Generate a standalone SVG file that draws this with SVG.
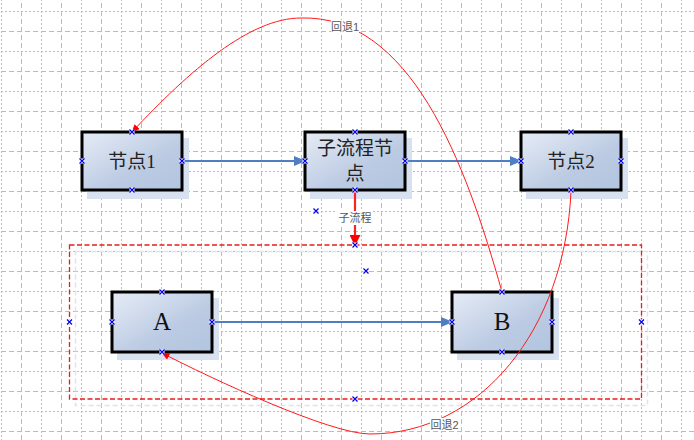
<svg xmlns="http://www.w3.org/2000/svg" width="694" height="440" viewBox="0 0 694 440">
<defs>
<style>
.grid-dot{stroke:#bcbcbc;stroke-width:1;stroke-dasharray:2,2;fill:none}
.grid-dash{stroke:#bcbcbc;stroke-width:1;stroke-dasharray:5,3;fill:none}
.box{fill:url(#nodeGrad);stroke:#000;stroke-width:3}
.shadow{fill:#d8e1f0}
.ntext{font-family:"Liberation Serif","Noto Sans CJK SC",serif;font-size:19px;fill:#222;text-anchor:middle}
.ltext{font-family:"Liberation Serif",serif;font-size:25px;fill:#111;text-anchor:middle}
.lbl{font-family:"Liberation Sans","Noto Sans CJK SC",sans-serif;font-size:11px;fill:#555;text-anchor:middle}
.blue{stroke:#4f7fc0;stroke-width:2;fill:none}
.red{stroke:#ff1a1a;stroke-width:1;fill:none}
</style>
<linearGradient id="nodeGrad" x1="0" y1="0" x2="1" y2="1">
<stop offset="0" stop-color="#e6ecf6"/>
<stop offset="0.6" stop-color="#bccbe3"/>
<stop offset="1" stop-color="#b2c4df"/>
</linearGradient>
<pattern id="grid" patternUnits="userSpaceOnUse" x="1" y="11" width="40" height="40">
<path class="grid-dot" d="M0.5 0V40M0 0.5H40"/>
<path class="grid-dash" d="M20.5 0V40M0 20.5H40"/>
</pattern>
<marker id="arrBlue" markerWidth="12" markerHeight="10" refX="11" refY="5" orient="auto" markerUnits="userSpaceOnUse">
<path d="M0,0 L12,5 L0,10 Z" fill="#4f7fc0"/>
</marker>
<marker id="arrRedBig" markerWidth="11" markerHeight="11" refX="10" refY="5.5" orient="auto" markerUnits="userSpaceOnUse">
<path d="M0,0 L11,5.5 L0,11 Z" fill="#ff0000"/>
</marker>
<marker id="arrRed" markerWidth="8" markerHeight="7" refX="7.5" refY="3.5" orient="auto" markerUnits="userSpaceOnUse">
<path d="M0,0 L8,3.5 L0,7 Z" fill="#ff0000"/>
</marker>
<g id="pt">
<rect x="-2.5" y="-2.5" width="5" height="5" fill="#fff"/>
<path d="M-2.5,-2.5 L2.5,2.5 M2.5,-2.5 L-2.5,2.5" stroke="#0000ee" stroke-width="1.2"/>
</g>
</defs>

<rect width="694" height="440" fill="#fff"/>
<rect width="694" height="440" fill="url(#grid)"/>

<g id="container">
<rect x="75.5" y="251.5" width="572" height="154" fill="none" stroke="#dde4ef" stroke-width="1.5" stroke-dasharray="5,3"/>
<rect x="69.5" y="245" width="572" height="154" fill="none" stroke="#e81c1c" stroke-width="1.3" stroke-dasharray="5,2.5"/>
</g>

<g id="node1">
<rect class="shadow" x="87" y="138" width="102" height="61"/>
<rect class="box" x="82" y="132" width="100" height="58"/>
<text class="ntext" x="132" y="168">节点1</text>
</g>
<g id="subflow">
<rect class="shadow" x="310" y="138" width="102" height="61"/>
<rect class="box" x="305" y="132" width="100" height="58"/>
<text class="ntext" x="355" y="155">子流程节</text>
<text class="ntext" x="355" y="180">点</text>
</g>
<g id="node2">
<rect class="shadow" x="526" y="138" width="102" height="61"/>
<rect class="box" x="521" y="132" width="100" height="58"/>
<text class="ntext" x="571" y="168">节点2</text>
</g>
<g id="nodeA">
<rect class="shadow" x="117" y="298" width="102" height="62"/>
<rect class="box" x="112" y="292" width="100" height="60"/>
<text class="ltext" x="162" y="330">A</text>
</g>
<g id="nodeB">
<rect class="shadow" x="457" y="298" width="102" height="62"/>
<rect class="box" x="452" y="292" width="100" height="60"/>
<text class="ltext" x="502" y="330">B</text>
</g>

<g id="connectors">
<path class="blue" d="M182,161 H305" marker-end="url(#arrBlue)"/>
<path class="blue" d="M405,161 H521" marker-end="url(#arrBlue)"/>
<path class="blue" d="M212,322 H452" marker-end="url(#arrBlue)"/>
<path d="M355,191 V245" stroke="#ff2020" stroke-width="2.2" fill="none" marker-end="url(#arrRedBig)"/>
<rect x="337" y="211" width="36" height="14" fill="#fff"/>
<text class="lbl" x="355" y="222">子流程</text>
<path class="red" d="M502,292 C465,160 410,15 301,18 C250,18 190,70 132,132" marker-end="url(#arrRed)"/>
<rect x="331" y="20" width="28" height="13" fill="#fff"/>
<text class="lbl" x="345" y="30.5">回退1</text>
<path class="red" d="M571,191 C565,330 480,434 370,434 C330,434 210,378 162,353" marker-end="url(#arrRed)"/>
<rect x="430" y="418" width="30" height="13" fill="#fff"/>
<text class="lbl" x="444.5" y="428.5">回退2</text>
</g>

<g id="points">
<use href="#pt" x="132" y="132"/><use href="#pt" x="132" y="190"/><use href="#pt" x="82" y="161"/><use href="#pt" x="182" y="161"/>
<use href="#pt" x="355" y="132"/><use href="#pt" x="355" y="190"/><use href="#pt" x="305" y="161"/><use href="#pt" x="405" y="161"/>
<use href="#pt" x="571" y="132"/><use href="#pt" x="571" y="190"/><use href="#pt" x="521" y="161"/><use href="#pt" x="621" y="161"/>
<use href="#pt" x="162" y="292"/><use href="#pt" x="162" y="352"/><use href="#pt" x="112" y="322"/><use href="#pt" x="212" y="322"/>
<use href="#pt" x="502" y="292"/><use href="#pt" x="502" y="352"/><use href="#pt" x="452" y="322"/><use href="#pt" x="552" y="322"/>
<use href="#pt" x="69.5" y="322"/><use href="#pt" x="641.5" y="322"/><use href="#pt" x="355" y="245"/><use href="#pt" x="355" y="399"/>
<use href="#pt" x="316" y="211"/><use href="#pt" x="366" y="271"/>
</g>
</svg>
